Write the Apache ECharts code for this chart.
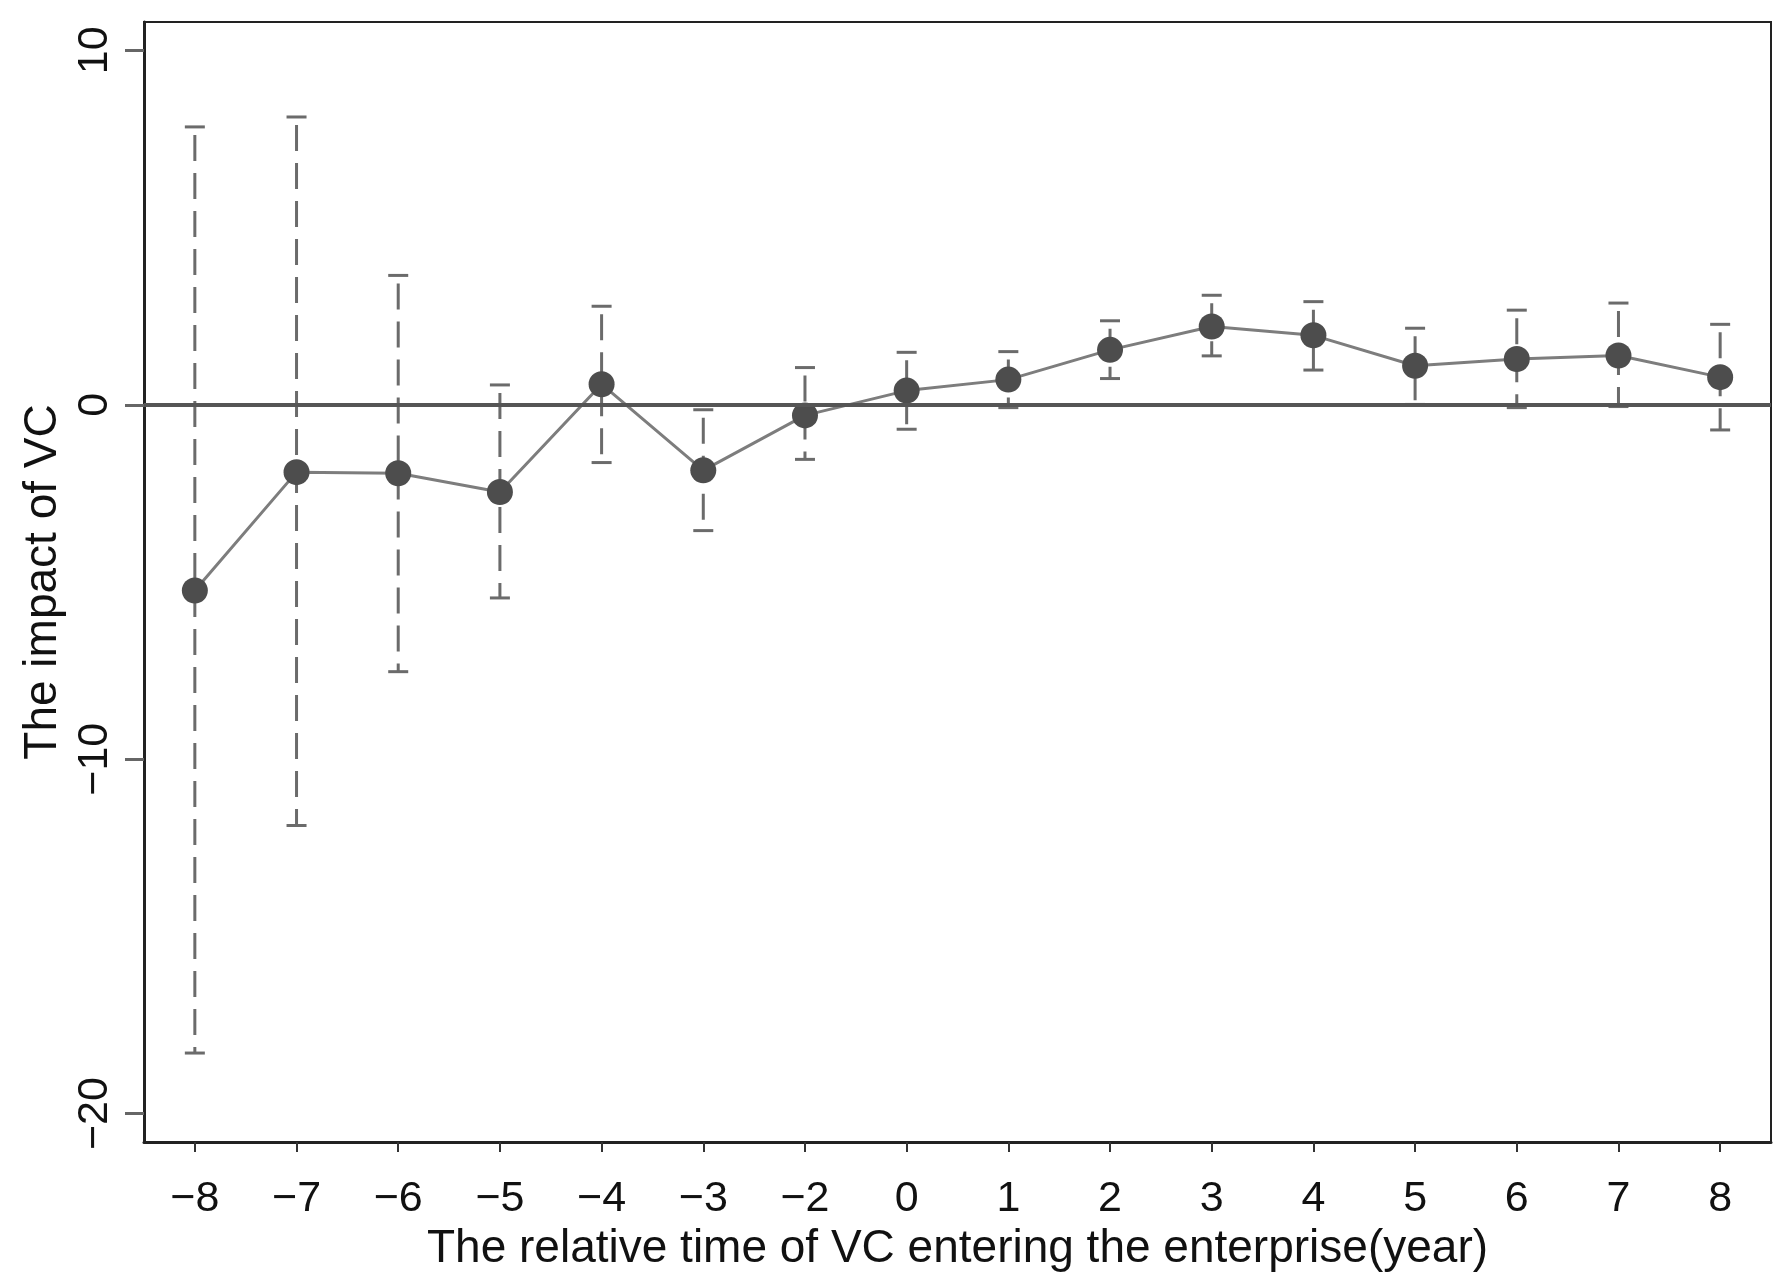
<!DOCTYPE html>
<html>
<head>
<meta charset="utf-8">
<script src="https://cdn.jsdelivr.net/npm/echarts@6/dist/echarts.min.js"></script>
<style>
html,body{margin:0;padding:0;background:#fff;}
#chart{width:1790px;height:1288px;}
</style>
</head>
<body>
<div id="chart"></div>
<script>
const categories = ['−8','−7','−6','−5','−4','−3','−2','0','1','2','3','4','5','6','7','8'];
const estimates = [-5.24,-1.90,-1.93,-2.46,0.58,-1.85,-0.30,0.40,0.71,1.55,2.21,1.96,1.10,1.29,1.39,0.78];
const upperCI  = [7.84,8.12,3.65,0.56,2.78,-0.14,1.05,1.48,1.50,2.37,3.09,2.91,2.16,2.67,2.87,2.27];
const lowerCI  = [-18.29,-11.87,-7.53,-5.45,-1.63,-3.55,-1.54,-0.69,-0.08,0.74,1.38,0.98,0.01,-0.08,-0.05,-0.71];
const yTicks = [-20,-10,0,10];
const yMin = -20.8, yMax = 10.8;

const ciData = categories.map((c,i)=>[i, lowerCI[i], upperCI[i]]);
const fmt = v => String(v).replace('-', '−');
const textColor = '#111';
const font = 'Liberation Sans, Arial, sans-serif';

const chart = echarts.init(document.getElementById('chart'));
chart.setOption({
  animation: false,
  backgroundColor: '#fff',
  grid: {left:144, right:19, top:22, bottom:146, show:true, borderColor:'#222', borderWidth:2, backgroundColor:'#fff'},
  xAxis: {
    type:'category', data:categories, boundaryGap:true,
    name:'The relative time of VC entering the enterprise(year)',
    nameLocation:'middle', nameGap:83,
    nameTextStyle:{fontSize:46, color:textColor, fontFamily:font},
    axisLine:{show:true, onZero:false, lineStyle:{color:'#222', width:3}},
    axisTick:{show:true, alignWithLabel:true, length:10, lineStyle:{color:'#333', width:2}},
    axisLabel:{fontSize:43, color:textColor, fontFamily:font, margin:36, interval:0},
    splitLine:{show:false}
  },
  yAxis: {
    type:'value', min:yMin, max:yMax,
    name:'The impact of VC', nameLocation:'middle', nameGap:70,
    nameTextStyle:{fontSize:46, color:textColor, fontFamily:font},
    axisLine:{show:true, onZero:false, lineStyle:{color:'#222', width:3}},
    axisTick:{show:true, length:19, customValues:yTicks, lineStyle:{color:'#666', width:3}},
    axisLabel:{show:true, customValues:yTicks, rotate:90, fontSize:43, color:textColor, fontFamily:font, margin:27, formatter:fmt},
    splitLine:{show:false}
  },
  series: [
    {
      type:'line', data:[], silent:true,
      markLine:{silent:true, symbol:['none','none'], label:{show:false},
        lineStyle:{color:'#555', width:4, type:'solid'}, data:[{yAxis:0}]},
      z:1
    },
    {
      type:'custom', z:3,
      data: ciData,
      renderItem: function(params, api){
        const x = api.value(0);
        const lo = api.coord([x, api.value(1)]);
        const hi = api.coord([x, api.value(2)]);
        const cw = 10;
        const style = {stroke:'#6b6b6b', lineWidth:3};
        return {type:'group', children:[
          {type:'line', shape:{x1:hi[0], y1:hi[1], x2:lo[0], y2:lo[1]}, style:Object.assign({lineDash:[26,12], lineDashOffset:-8}, style)},
          {type:'line', shape:{x1:hi[0]-cw, y1:hi[1], x2:hi[0]+cw, y2:hi[1]}, style:style},
          {type:'line', shape:{x1:lo[0]-cw, y1:lo[1], x2:lo[0]+cw, y2:lo[1]}, style:style}
        ]};
      }
    },
    {
      type:'line', data:estimates, z:4,
      symbol:'circle', symbolSize:26,
      itemStyle:{color:'#4d4d4d'},
      lineStyle:{color:'#7d7d7d', width:3}
    }
  ]
});
</script>
</body>
</html>
